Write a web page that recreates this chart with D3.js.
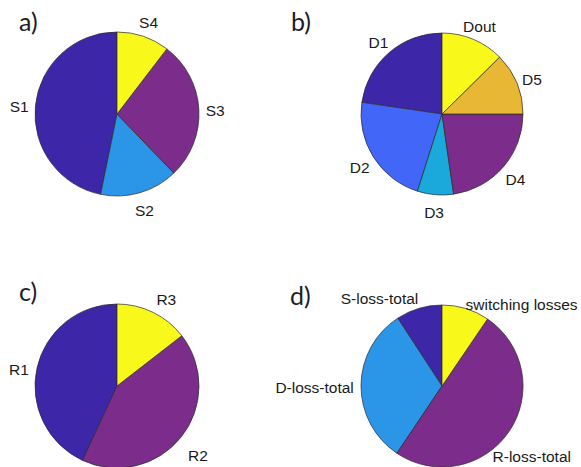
<!DOCTYPE html>
<html>
<head>
<meta charset="utf-8">
<script src="https://cdn.jsdelivr.net/npm/d3@7"></script>
<style>
  html, body { margin: 0; padding: 0; background: #fff; }
  svg { display: block; }
</style>
</head>
<body>
<svg id="chart" width="581" height="467"></svg>
<script>
// Loss breakdown shares (percent) for each panel
const sLabels = ["S1", "S2", "S3", "S4"];
const sValues = [46.8, 15.4, 27.4, 10.4];

const dLabels = ["D1", "D2", "D3", "D4", "D5", "Dout"];
const dValues = [22.7, 22.4, 7.2, 22.7, 12.4, 12.6];

const rLabels = ["R1", "R2", "R3"];
const rValues = [43.1, 42.4, 14.5];

const totLabels = ["S-loss-total", "D-loss-total", "R-loss-total", "switching losses"];
const totValues = [9.2, 31.4, 49.9, 9.5];

// Slice colours
const INDIGO = "#3d27a8", PURPLE = "#7c2c8b", YELLOW = "#f8f81a",
      SKY = "#2b95e7", BLUE = "#4166f8", CYAN = "#1ba9dc", GOLD = "#e8b834";

const panels = [
  { tag: "a)", labels: sLabels, values: sValues, colors: [INDIGO, SKY, PURPLE, YELLOW],
    cx: 117, cy: 114, r: 82, tagX: 19, tagY: 31 },
  { tag: "b)", labels: dLabels, values: dValues, colors: [INDIGO, BLUE, CYAN, PURPLE, GOLD, YELLOW],
    cx: 442, cy: 114, r: 81, tagX: 291, tagY: 31 },
  { tag: "c)", labels: rLabels, values: rValues, colors: [INDIGO, PURPLE, YELLOW],
    cx: 117, cy: 386, r: 82, tagX: 19, tagY: 301,
    nudges: [[-2, 3], [4, 6], [6, 0]] },
  { tag: "d)", labels: totLabels, values: totValues, colors: [INDIGO, SKY, PURPLE, YELLOW],
    cx: 442, cy: 386, r: 81, tagX: 290, tagY: 305,
    // long labels are placed beside the pie rather than centred on their slice
    anchors: ["end", "end", "start", "start"],
    nudges: [[4, 4], [9, 0], [-30, 14], [-5, 9]] }
];

const svg = d3.select("#chart");

// Slices run counter-clockwise from twelve o'clock
const pie = d3.pie().sort(null).startAngle(0).endAngle(-2 * Math.PI);

panels.forEach(p => {
  const g = svg.append("g").attr("transform", `translate(${p.cx},${p.cy})`);
  const arc = d3.arc().innerRadius(0).outerRadius(p.r);
  const arcs = pie(p.values);

  g.selectAll("path")
    .data(arcs)
    .join("path")
    .attr("d", arc)
    .attr("fill", (d, i) => p.colors[i])
    .attr("stroke", "#2a2a2a")
    .attr("stroke-width", 0.7)
    .attr("stroke-linejoin", "round");

  const lr = p.r * 1.2;
  g.selectAll("text.lab")
    .data(arcs)
    .join("text")
    .attr("class", "lab")
    .attr("x", (d, i) => {
      const m = (d.startAngle + d.endAngle) / 2;
      return lr * Math.sin(m) + (p.nudges ? p.nudges[i][0] : 0);
    })
    .attr("y", (d, i) => {
      const m = (d.startAngle + d.endAngle) / 2;
      return -lr * Math.cos(m) + 2 + (p.nudges ? p.nudges[i][1] : 0);
    })
    .attr("text-anchor", (d, i) => p.anchors ? p.anchors[i] : "middle")
    .attr("dominant-baseline", "central")
    .attr("font-family", "'Liberation Sans', Arial, sans-serif")
    .attr("font-size", 15.5)
    .attr("fill", "#1a1a1a")
    .text((d, i) => p.labels[i]);

  svg.append("text")
    .attr("x", p.tagX)
    .attr("y", p.tagY)
    .attr("font-family", "Lato, 'Open Sans', sans-serif")
    .attr("font-size", 25)
    .attr("fill", "#1c1c28")
    .text(p.tag);
});
</script>
</body>
</html>
